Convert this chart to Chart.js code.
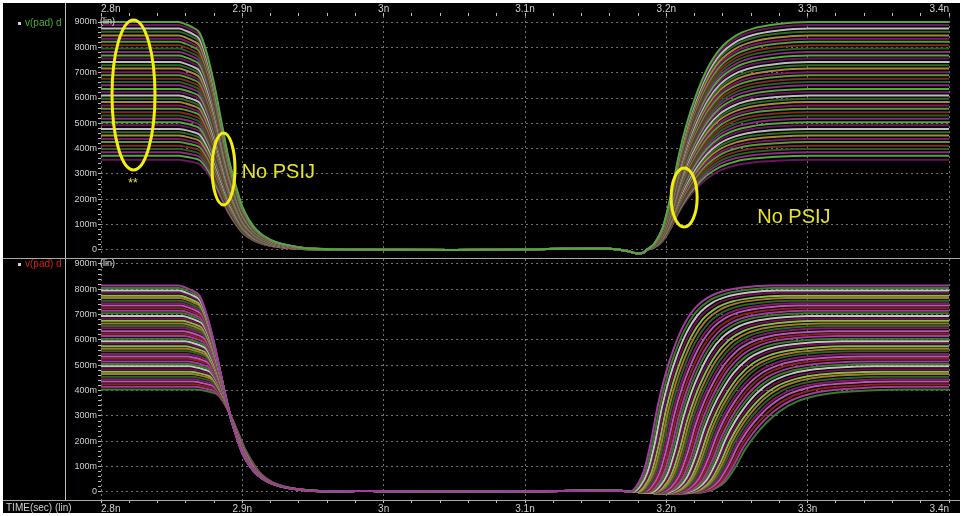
<!DOCTYPE html>
<html>
<head>
<meta charset="utf-8">
<title>v(pad) waveforms</title>
<script src="https://cdn.jsdelivr.net/npm/chart.js@4.4.1/dist/chart.umd.min.js"></script>
<style>
  html, body { margin: 0; padding: 0; background: #fff; }
  #page { position: relative; width: 963px; height: 516px; overflow: hidden; background: #fff;
          font-family: 'Liberation Sans', Arial, sans-serif; }
  #frame { position: absolute; left: 3px; top: 3px; width: 957px; height: 510px; background: #000; }
  .panel { position: absolute; left: 0; }
  .hline { position: absolute; left: 3px; width: 957px; height: 1px; background: #a8a8a8; }
  .vline { position: absolute; left: 65px; top: 3px; width: 1px; height: 497px; background: #b4c2b4; }
  .legend { position: absolute; left: 18px; font-size: 10px; line-height: 12px; white-space: nowrap; }
  .legend i { display: inline-block; width: 3px; height: 3px; background: #cfcfcf; margin-right: 4px; vertical-align: middle; }
  #timeLabel { position: absolute; left: 6px; top: 502px; font-size: 10px; line-height: 12px; color: #cfcfcf; }
</style>
</head>
<body>
<div id="page">
  <div id="frame"></div>
  <canvas id="topChart" class="panel" width="963" height="258" style="top:0"></canvas>
  <canvas id="bottomChart" class="panel" width="963" height="258" style="top:258px"></canvas>
  <div class="vline"></div>
  <div class="hline" style="top:258px"></div>
  <div class="hline" style="top:500px"></div>
  <div class="legend" style="top:17px;color:#4fae2c"><i></i>v(pad) d</div>
  <div class="legend" style="top:258px;color:#d42020"><i></i>v(pad) d</div>
  <div id="timeLabel">TIME(sec) (lin)</div>
</div>
<script>
// Axis ticks
const timeTickValues = [2.8, 2.9, 3.0, 3.1, 3.2, 3.3, 3.4];
const timeTickLabels = ['2.8n', '2.9n', '3n', '3.1n', '3.2n', '3.3n', '3.4n'];
const voltTickValues = [0, 0.1, 0.2, 0.3, 0.4, 0.5, 0.6, 0.7, 0.8, 0.9];
const voltTickLabels = ['0', '100m', '200m', '300m', '400m', '500m', '600m', '700m', '800m', '900m'];

// Plateau level of each run (V), top panel (no PSIJ) and bottom panel
const topLevels = [0.900, 0.888, 0.874, 0.862, 0.847, 0.834, 0.822, 0.808, 0.795, 0.782,
                   0.768, 0.756, 0.742, 0.729, 0.716, 0.702, 0.690, 0.676, 0.663, 0.650,
                   0.636, 0.624, 0.610, 0.597, 0.584, 0.570, 0.558, 0.544, 0.531, 0.518,
                   0.504, 0.492, 0.478, 0.465, 0.452, 0.438, 0.426, 0.412, 0.399, 0.386,
                   0.372, 0.356];
const bottomLevels = [0.815, 0.805, 0.795, 0.786, 0.775, 0.766, 0.755, 0.745, 0.736, 0.725,
                      0.715, 0.706, 0.695, 0.685, 0.676, 0.665, 0.655, 0.646, 0.635, 0.625,
                      0.616, 0.605, 0.595, 0.586, 0.575, 0.565, 0.556, 0.545, 0.535, 0.526,
                      0.515, 0.505, 0.496, 0.485, 0.475, 0.466, 0.455, 0.445, 0.436, 0.425,
                      0.415, 0.405];

// Edge templates: ps after edge start -> fraction of level
const fallPs = [0, 5, 10, 15, 20, 25, 30, 35, 40, 45, 50, 55, 65, 85, 110];
const fallShape = [1.0, 0.99, 0.975, 0.95, 0.86, 0.73, 0.57, 0.41, 0.29, 0.19, 0.13, 0.088, 0.044, 0.012, 0.003];
const risePs = [0, 5, 10, 15, 20, 25, 30, 37, 45, 55, 65, 80, 100];
const riseShape = [0, 0.03, 0.10, 0.24, 0.42, 0.56, 0.67, 0.79, 0.88, 0.94, 0.97, 0.99, 1.0];

// No PSIJ: every run switches at the same time
const topFallStart = 2.855;
const topRiseStart = 3.186;
const topRiseStretch = 1.15;
const topLowTime = [2.975, 3.0, 3.05, 3.1, 3.13, 3.15, 3.165, 3.175, 3.18, 3.184];
const topLowV = [0.002, 0.001, 0.0, 0.002, 0.005, 0.006, 0.003, -0.008, -0.014, -0.009];

// PSIJ: edge start (ns) and rise stretch for each run
const bottomFallStart = [2.8548, 2.8550, 2.8552, 2.8554, 2.8556, 2.8558, 2.8560, 2.8563, 2.8565, 2.8567,
                         2.8569, 2.8571, 2.8573, 2.8575, 2.8577, 2.8579, 2.8581, 2.8584, 2.8586, 2.8588,
                         2.8590, 2.8592, 2.8594, 2.8596, 2.8599, 2.8602, 2.8605, 2.8609, 2.8613, 2.8616,
                         2.8620, 2.8624, 2.8628, 2.8632, 2.8636, 2.8640, 2.8645, 2.8649, 2.8653, 2.8659,
                         2.8666, 2.8673];
const bottomRiseStart = [3.1740, 3.1752, 3.1765, 3.1778, 3.1790, 3.1804, 3.1817, 3.1830, 3.1842, 3.1856,
                         3.1869, 3.1881, 3.1895, 3.1908, 3.1920, 3.1934, 3.1947, 3.1960, 3.1972, 3.1986,
                         3.1999, 3.2011, 3.2025, 3.2038, 3.2050, 3.2064, 3.2077, 3.2090, 3.2102, 3.2116,
                         3.2129, 3.2141, 3.2155, 3.2168, 3.2180, 3.2194, 3.2207, 3.2220, 3.2232, 3.2246,
                         3.2258, 3.2270];
const bottomRiseStretch = [1.00, 1.01, 1.02, 1.03, 1.04, 1.05, 1.06, 1.07, 1.08, 1.09,
                           1.10, 1.11, 1.12, 1.13, 1.14, 1.15, 1.16, 1.17, 1.18, 1.19,
                           1.20, 1.21, 1.22, 1.23, 1.24, 1.25, 1.26, 1.27, 1.28, 1.29,
                           1.30, 1.31, 1.32, 1.33, 1.34, 1.35, 1.36, 1.37, 1.38, 1.40,
                           1.42, 1.45];
const bottomLowTime = [2.98, 3.0, 3.05, 3.1, 3.14, 3.16, 3.17, 3.18, 3.19, 3.2, 3.21, 3.22];
const bottomLowV = [0.004, 0.003, 0.002, 0.003, 0.005, 0.006, 0.004, 0.0, -0.004, -0.006, -0.005, -0.003];

// Trace colours (dark purples and greens with thin light runs in between)
const topColors = ['#52aa3a', '#6b1560', '#bdbdbd', '#2f6a24', '#a8883c', '#7a1a6a', '#5c9a34', '#7a2e22', '#2b5e22', '#8c2a82'];
const bottomColors = ['#a23aa0', '#3a7a2a', '#c4c4c4', '#6a1252', '#8cb848', '#a07830', '#2c6424', '#7e1c66', '#b458b4', '#8a2420'];

Chart.defaults.font.family = "'Liberation Sans', Arial, sans-serif";

// One run: plateau, falling edge, low level, rising edge, plateau
function buildTrace(level, fallStart, riseStart, riseStretch, lowTime, lowV) {
    const pts = [{ x: 2.8, y: level }];
    fallPs.forEach((ps, k) => pts.push({ x: fallStart + ps / 1000, y: level * fallShape[k] }));
    const fallEnd = fallStart + fallPs[fallPs.length - 1] / 1000;
    lowTime.forEach((t, k) => {
        if (t > fallEnd + 0.002 && t < riseStart - 0.001) pts.push({ x: t, y: lowV[k] });
    });
    risePs.forEach((ps, k) => pts.push({ x: riseStart + riseStretch * ps / 1000, y: level * riseShape[k] }));
    pts.push({ x: 3.4, y: level });
    return pts;
}

const stepTicks = (min, max, step) => {
    const ticks = [];
    const n = Math.round((max - min) / step);
    for (let i = 0; i <= n; i++) ticks.push({ value: +(min + i * step).toFixed(4) });
    return ticks;
};
const majorIndex = (values, v) => values.findIndex(m => Math.abs(m - v) < 1e-6);
const gridColor = values => c => (c.tick && majorIndex(values, c.tick.value) >= 0) ? '#6e6e6e' : 'rgba(0,0,0,0)';

// Yellow marks drawn over the top panel
const annotate = {
    id: 'annotate',
    afterDraw(chart, args, opts) {
        const { ctx, chartArea, scales: { x, y } } = chart;
        ctx.save();
        ctx.fillStyle = '#e2e2e2';
        ctx.font = "9px 'Liberation Sans', Arial, sans-serif";
        ctx.textAlign = 'left';
        ctx.textBaseline = 'middle';
        ctx.fillText('(lin)', chartArea.left - 1, y.getPixelForValue(0.9));

        ctx.strokeStyle = '#f2ee12';
        ctx.lineWidth = 3;
        (opts.ellipses || []).forEach(e => {
            const cx = x.getPixelForValue(e.t);
            const cy = y.getPixelForValue(e.v);
            const rx = x.getPixelForValue(e.t + e.rt) - cx;
            const ry = cy - y.getPixelForValue(e.v + e.rv);
            ctx.beginPath();
            ctx.ellipse(cx, cy, rx, ry, 0, 0, Math.PI * 2);
            ctx.stroke();
        });
        ctx.fillStyle = '#e8e428';
        ctx.textBaseline = 'alphabetic';
        (opts.notes || []).forEach(n => {
            ctx.font = n.size + "px 'Liberation Sans', Arial, sans-serif";
            ctx.textAlign = n.align;
            ctx.fillText(n.text, x.getPixelForValue(n.t), y.getPixelForValue(n.v));
        });
        ctx.restore();
    }
};

function makeOptions(cfg) {
    return {
        responsive: false,
        animation: false,
        events: [],
        layout: { padding: cfg.padding },
        plugins: {
            legend: { display: false },
            tooltip: { enabled: false },
            annotate: cfg.marks
        },
        scales: {
            x: {
                type: 'linear',
                position: cfg.xPosition,
                min: 2.8,
                max: 3.4,
                afterBuildTicks: s => { s.ticks = stepTicks(2.8, 3.4, 0.02); },
                afterFit: s => { s.height = cfg.xHeight; s.paddingLeft = 0; s.paddingRight = 0; },
                ticks: {
                    autoSkip: false,
                    maxRotation: 0,
                    align: 'inner',
                    padding: cfg.xPad,
                    color: '#d0d0d0',
                    font: { size: 10 },
                    callback: v => {
                        const i = majorIndex(timeTickValues, v);
                        return i >= 0 ? timeTickLabels[i] : '';
                    }
                },
                grid: { color: gridColor(timeTickValues), tickColor: '#bdbdbd', tickLength: 3, lineWidth: 1 },
                border: { display: false, dash: [2, 3] }
            },
            y: {
                type: 'linear',
                min: cfg.yMin,
                max: cfg.yMax,
                afterBuildTicks: s => { s.ticks = stepTicks(0, 0.9, 0.02); },
                afterFit: s => { s.width = 101; s.paddingTop = 0; s.paddingBottom = 0; },
                ticks: {
                    autoSkip: false,
                    padding: 1,
                    color: '#d0d0d0',
                    font: { size: 9 },
                    callback: v => {
                        const i = majorIndex(voltTickValues, v);
                        return i >= 0 ? voltTickLabels[i] : '';
                    }
                },
                grid: { color: gridColor(voltTickValues), tickColor: '#bdbdbd', tickLength: 3, lineWidth: 1 },
                border: { display: false, dash: [2, 3] }
            }
        }
    };
}

const lineStyle = { borderWidth: 2, pointRadius: 0, fill: false, cubicInterpolationMode: 'monotone' };

new Chart(document.getElementById('topChart'), {
    type: 'line',
    data: {
        datasets: topLevels.map((level, i) => ({
            ...lineStyle,
            data: buildTrace(level, topFallStart, topRiseStart, topRiseStretch, topLowTime, topLowV),
            borderColor: topColors[i % topColors.length]
        }))
    },
    options: makeOptions({
        padding: { left: 0, right: 14, top: 0, bottom: 2 },
        xPosition: 'top',
        xHeight: 16,
        xPad: -2,
        yMin: -0.0237,
        yMax: 0.9237,
        marks: {
            ellipses: [
                { t: 2.8230, v: 0.612, rt: 0.0152, rv: 0.296 },
                { t: 2.8867, v: 0.320, rt: 0.0081, rv: 0.142 },
                { t: 3.2126, v: 0.207, rt: 0.0092, rv: 0.1165 }
            ],
            notes: [
                { t: 2.8995, v: 0.284, text: 'No PSIJ', size: 20, align: 'left' },
                { t: 3.2643, v: 0.107, text: 'No PSIJ', size: 20, align: 'left' },
                { t: 2.8226, v: 0.249, text: '**', size: 12, align: 'center' }
            ]
        }
    }),
    plugins: [annotate]
});

new Chart(document.getElementById('bottomChart'), {
    type: 'line',
    data: {
        datasets: bottomLevels.map((level, i) => ({
            ...lineStyle,
            data: buildTrace(level, bottomFallStart[i], bottomRiseStart[i], bottomRiseStretch[i], bottomLowTime, bottomLowV),
            borderColor: bottomColors[i % bottomColors.length]
        }))
    },
    options: makeOptions({
        padding: { left: 0, right: 14, top: 1, bottom: 3 },
        xPosition: 'bottom',
        xHeight: 13,
        xPad: 0,
        yMin: -0.0316,
        yMax: 0.9197,
        marks: { ellipses: [], notes: [] }
    }),
    plugins: [annotate]
});
</script>
</body>
</html>
